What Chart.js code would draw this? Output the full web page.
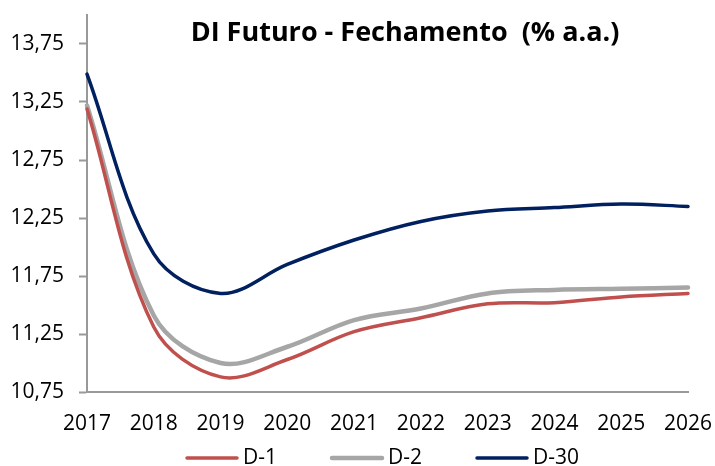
<!DOCTYPE html>
<html>
<head>
<meta charset="utf-8">
<script src="https://cdn.jsdelivr.net/npm/chart.js@4.4.1/dist/chart.umd.min.js"></script>
<style>
  html, body { margin: 0; padding: 0; background: #fff; }
  #wrap { width: 715px; height: 466px; position: relative; }
</style>
</head>
<body>
<div id="wrap"><canvas id="diChart"></canvas></div>
<script>
// dados
var anos = ['2017', '2018', '2019', '2020', '2021', '2022', '2023', '2024', '2025', '2026'];
var d1 = [13.19, 11.31, 10.88, 11.03, 11.27, 11.39, 11.51, 11.52, 11.57, 11.60];
var d2 = [13.22, 11.41, 11.00, 11.14, 11.37, 11.47, 11.60, 11.63, 11.64, 11.65];
var d30 = [13.49, 11.94, 11.60, 11.85, 12.06, 12.22, 12.31, 12.34, 12.37, 12.35];
var yTicks = [10.75, 11.25, 11.75, 12.25, 12.75, 13.25, 13.75];
var nomes = ['D-1', 'D-2', 'D-30'];
var cores = ['#C0504D', '#A6A6A6', '#002060'];
var espessuras = [3.5, 4.5, 3.5];
var titulo = 'DI Futuro - Fechamento  (% a.a.)';

var fonte = '"Open Sans", "DejaVu Sans", sans-serif';

// titulo dentro da area do grafico
var tituloPlugin = {
  id: 'titulo',
  afterDraw: function(chart) {
    var ctx = chart.ctx;
    ctx.save();
    ctx.font = 'bold 27px ' + fonte;
    ctx.fillStyle = '#000';
    ctx.textAlign = 'center';
    ctx.textBaseline = 'middle';
    ctx.fillText(titulo, 405, 33);
    ctx.restore();
  }
};

// legenda no rodape, estilo excel
var legendaPlugin = {
  id: 'legendaLinhas',
  afterDraw: function(chart) {
    var ctx = chart.ctx;
    var x = 185, y = 458;
    ctx.save();
    ctx.font = '21px ' + fonte;
    ctx.textBaseline = 'middle';
    chart.data.datasets.forEach(function(ds) {
      ctx.strokeStyle = ds.borderColor;
      ctx.lineWidth = ds.borderWidth;
      ctx.lineCap = 'round';
      ctx.beginPath();
      ctx.moveTo(x + 2, y);
      ctx.lineTo(x + 52, y);
      ctx.stroke();
      ctx.fillStyle = '#000';
      ctx.fillText(ds.label, x + 58, y);
      x += 58 + ctx.measureText(ds.label).width + 53;
    });
    ctx.restore();
  }
};

var series = [d1, d2, d30];
var datasets = series.map(function(dados, i) {
  return {
    label: nomes[i],
    data: dados,
    borderColor: cores[i],
    backgroundColor: cores[i],
    borderWidth: espessuras[i],
    borderCapStyle: 'round',
    pointRadius: 0,
    tension: 0.35,
    fill: false,
    clip: false
  };
});

var ctx = document.getElementById('diChart').getContext('2d');
var diChart = new Chart(ctx, {
  type: 'line',
  data: { labels: anos, datasets: datasets },
  options: {
    responsive: true,
    maintainAspectRatio: false,
    animation: false,
    layout: { padding: { top: 15, right: 27, bottom: 31, left: 7 } },
    plugins: {
      legend: { display: false },
      title: { display: false },
      tooltip: { enabled: false }
    },
    scales: {
      x: {
        offset: false,
        afterFit: function(scale) {
          scale.height = 43;
          scale.paddingLeft = 0;
          scale.paddingRight = 0;
        },
        grid: { display: false, drawTicks: false },
        border: { display: true, color: '#999999', width: 2 },
        ticks: {
          color: '#000',
          padding: 19,
          maxRotation: 0,
          autoSkip: false,
          font: { family: fonte, size: 21 }
        }
      },
      y: {
        min: 10.75,
        max: 14.0,
        afterBuildTicks: function(scale) {
          scale.ticks = yTicks.map(function(v) { return { value: v }; });
        },
        afterFit: function(scale) {
          scale.width = 80;
          scale.paddingTop = 0;
          scale.paddingBottom = 0;
        },
        grid: {
          drawOnChartArea: false,
          drawTicks: true,
          tickLength: 8,
          tickColor: '#999999',
          tickWidth: 2
        },
        border: { display: true, color: '#999999', width: 2 },
        ticks: {
          color: '#000',
          padding: 15,
          font: { family: fonte, size: 21 },
          callback: function(v) { return Number(v).toFixed(2).replace('.', ','); }
        }
      }
    }
  },
  plugins: [tituloPlugin, legendaPlugin]
});
</script>
</body>
</html>
